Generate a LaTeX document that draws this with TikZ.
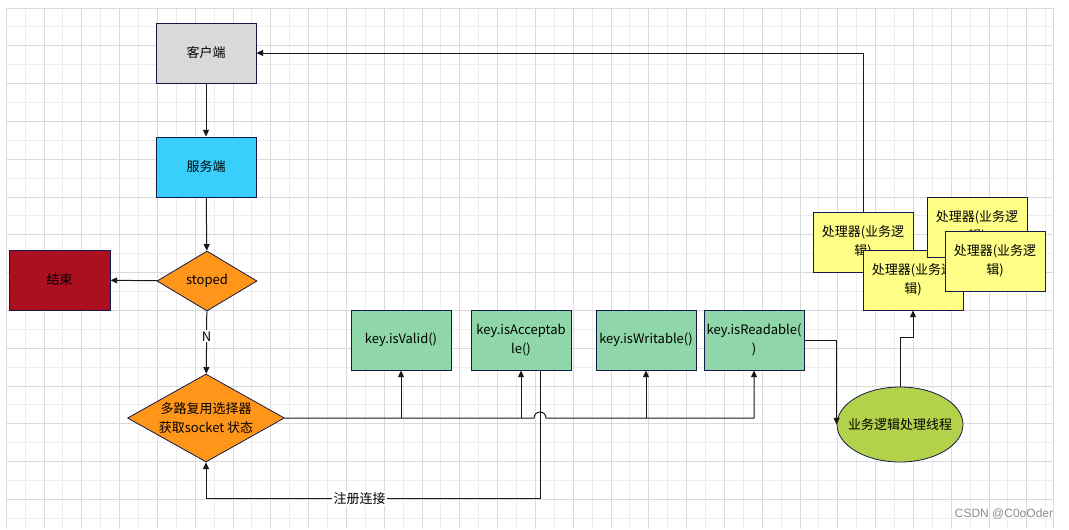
\documentclass[tikz,border=0pt]{standalone}
\usepackage{fontspec}
\setsansfont{Liberation Sans}
\newfontfamily\cjk{Noto Sans CJK SC}
\usetikzlibrary{arrows.meta,shapes.geometric}

\definecolor{edgenavy}{HTML}{141A4A}
\definecolor{gridmajor}{HTML}{DADADA}
\definecolor{gridminor}{HTML}{EDEDED}
\definecolor{clientgray}{HTML}{D9D9D9}
\definecolor{servercyan}{HTML}{38CFFD}
\definecolor{stopred}{HTML}{AC1020}
\definecolor{decorange}{HTML}{FF961A}
\definecolor{keygreen}{HTML}{8FD7A8}
\definecolor{procyellow}{HTML}{FFFF88}
\definecolor{threadgreen}{HTML}{B3D14A}

\begin{document}
\begin{tikzpicture}[x=0.75pt, y=-0.75pt]
			\tikzstyle{box}      = [rectangle, draw=edgenavy, line width=0.75pt, minimum width=75pt, minimum height=45pt, inner sep=0pt, align=center, font=\cjk\fontsize{9.75}{14.25}\selectfont]
			\tikzstyle{decision} = [diamond, draw=edgenavy, line width=0.6pt, fill=decorange, inner sep=0pt, align=center, font=\cjk\fontsize{9.75}{14.25}\selectfont]
			\tikzstyle{flow}     = [draw=black!90, line width=0.75pt, -{Triangle[length=5pt,width=4.5pt]}]
			\tikzstyle{lbl}      = [fill=white, inner sep=1pt, font=\cjk\fontsize{9.75}{12}\selectfont]

			\useasboundingbox (0,0) rectangle (1069,529);

			% background grid
			\foreach \i in {0,...,27}
				\draw[gridminor, line width=0.75pt] ({25.1+37.8*\i},8) -- ++(0,521);
			\foreach \j in {0,...,13}
				\draw[gridminor, line width=0.75pt] (6.2,{26.9+37.8*\j}) -- (1053,{26.9+37.8*\j});
			\foreach \i in {0,...,27}
				\draw[gridmajor, line width=0.75pt] ({6.2+37.8*\i},8) -- ++(0,521);
			\foreach \j in {0,...,13}
				\draw[gridmajor, line width=0.75pt] (6.2,{8+37.8*\j}) -- (1053,{8+37.8*\j});
			\draw[gridmajor, line width=0.75pt] (1053,8) -- (1053,529);

			\node[box, fill=clientgray] (client) at (206,53) {客户端};
			\node[box, fill=servercyan] (server) at (206,167) {服务端};
			\node[decision, aspect=1.67, minimum width=75pt, minimum height=45pt] (stoped) at (207,281) {stoped};
			\node[box, fill=stopred, minimum width=75.75pt] (finish) at (59.5,280) {结束};
			\node[decision, aspect=1.78, minimum width=117.75pt, minimum height=66pt] (mux) at (206,418) {多路复用选择器\\获取socket 状态};

			\foreach \name/\x/\txt in {valid/401/{key.isValid()}, accept/521/{key.isAcceptab\\le()}, write/646/{key.isWritable()}, read/754/{key.isReadable(\\)}}
				\node[box, fill=keygreen] (\name) at (\x,340) {\txt};

			\foreach \name/\x/\y in {proc1/863/242, proc3/913/280, proc2/977/227, proc4/995/261}
				\node[box, fill=procyellow] (\name) at (\x,\y) {处理器(业务逻\\辑)};

			\node[ellipse, draw=edgenavy, line width=0.6pt, fill=threadgreen, minimum width=94.5pt, minimum height=56.25pt,
				label={[font=\cjk\fontsize{9.75}{12}\selectfont]center:业务逻辑处理线程}] (thread) at (900,424.5) {};

			\node[font=\sffamily\fontsize{9}{10}\selectfont, text=black!45] (mark) at (1004,514) {CSDN @C0oOder};

			\coordinate (reg) at ([xshift=14.25pt]accept.south);
			\coordinate (hop) at (reg |- mux.east);

			\draw[flow] (client) -- (server);
			\draw[flow] (server) -- (stoped);
			\draw[flow] (stoped) -- (finish);
			\draw[flow] (stoped) -- node[lbl, pos=0.4] {N} (mux);

			\draw[flow] (mux.east) -- ([xshift=-4.5pt]hop) arc[start angle=180, end angle=0, radius=4.5pt] -| (read.south);
			\foreach \k in {valid, accept, write}
				\draw[flow] (\k.south |- mux.east) -- (\k.south);
			\draw[flow] (reg) -- ++(0,128) -| node[lbl, pos=0.27] {注册连接} (mux.south);

			\draw[flow] (read.east) -| (thread.west);
			\draw[flow] (thread.north) -- ++(0,-49) -| (proc3.south);
			\draw[flow] (proc1.north) |- (client.east);

		\end{tikzpicture}
\end{document}
